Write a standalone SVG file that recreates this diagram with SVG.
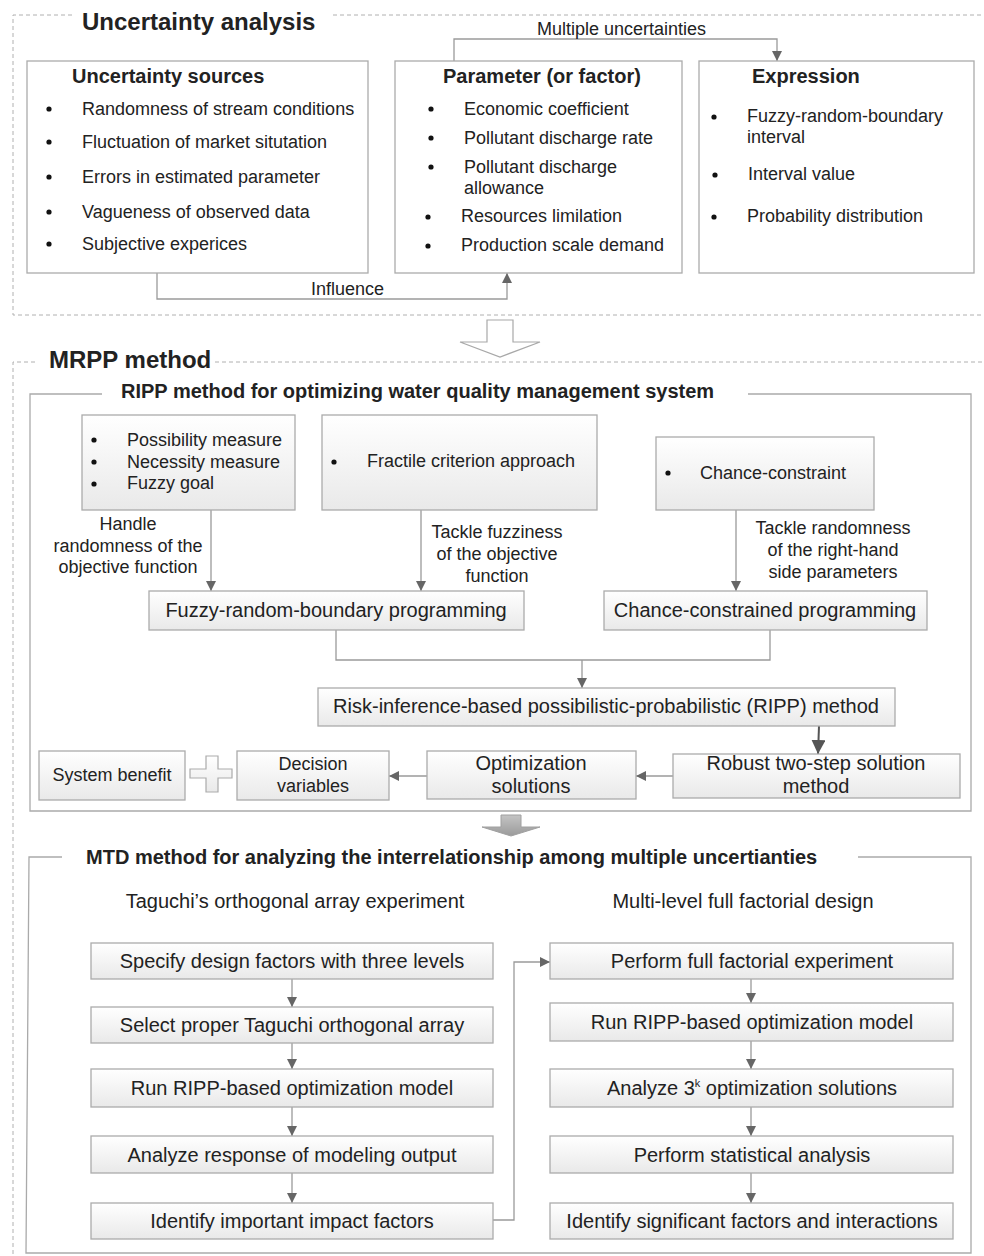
<svg xmlns="http://www.w3.org/2000/svg" width="984" height="1256" viewBox="0 0 984 1256">
<defs>
<linearGradient id="boxg" x1="0" y1="0" x2="0" y2="1">
<stop offset="0" stop-color="#ffffff"/>
<stop offset="1" stop-color="#e9e9e9"/>
</linearGradient>
<linearGradient id="arrg" x1="0" y1="0" x2="0" y2="1">
<stop offset="0" stop-color="#c4c4c4"/>
<stop offset="1" stop-color="#9a9a9a"/>
</linearGradient>
<marker id="ah" markerWidth="10" markerHeight="10" viewBox="0 0 10 10" refX="10" refY="5" orient="auto" markerUnits="userSpaceOnUse">
<path d="M0,0 L10,5 L0,10 Z" fill="#666"/>
</marker>
<marker id="ahb" markerWidth="14" markerHeight="14" viewBox="0 0 10 10" refX="10" refY="5" orient="auto" markerUnits="userSpaceOnUse">
<path d="M0,0 L10,5 L0,10 Z" fill="#555"/>
</marker>
</defs>
<style>
text{font-family:"Liberation Sans",Arial,sans-serif;fill:#222;}
.h1{font-size:24px;font-weight:bold;}
.h2{font-size:20px;font-weight:bold;}
.t{font-size:18px;}
.b{font-size:20px;}
.bx{fill:url(#boxg);stroke:#ababab;stroke-width:1.3;}
.wb{fill:#fff;stroke:#ababab;stroke-width:1.3;}
.dash{fill:none;stroke:#b0b0b0;stroke-width:1;stroke-dasharray:4 3;}
.fr{fill:none;stroke:#aaa;stroke-width:1.3;}
.c{fill:none;stroke:#9a9a9a;stroke-width:1.3;marker-end:url(#ah);}
.cn{fill:none;stroke:#9a9a9a;stroke-width:1.3;}
.m{text-anchor:middle;}
.dot{fill:#111;}
</style>

<g id="frames">
<path class="dash" d="M72,15 H13 V315 H984"/>
<path class="dash" d="M333,15 H984"/>
<text class="h1" x="82" y="30">Uncertainty analysis</text>
<path class="dash" d="M35,362 H13 V1256"/>
<path class="dash" d="M215,362 H984"/>
<text class="h1" x="49" y="368">MRPP method</text>
<path class="fr" d="M102,394 H30 V811 H971 V394 H748"/>
<text class="h2" x="121" y="398">RIPP method for optimizing water quality management system</text>
<path class="fr" d="M62,857 H29 L26,1253 H971 V857 H858"/>
<text class="h2" x="86" y="864">MTD method for analyzing the interrelationship among multiple uncertianties</text>
</g>

<g id="connectors">
<path class="c" d="M454,61 V39 H777 V61"/>
<text class="t" x="537" y="35">Multiple uncertainties</text>
<path class="c" d="M157,273 V299 H507 V273"/>
<text class="t" x="311" y="295">Influence</text>
<path class="c" d="M211,510 V591"/>
<path class="c" d="M421,510 V591"/>
<path class="c" d="M736,510 V591"/>
<path class="cn" d="M336,630 V660 H770 V630"/>
<path class="c" d="M582,660 V688"/>
<path d="M819,726 L818,754" fill="none" stroke="#555" stroke-width="2" marker-end="url(#ahb)"/>
<path class="c" d="M673,776 H636"/>
<path class="c" d="M427,776 H389"/>
<path class="c" d="M292,979 V1007"/>
<path class="c" d="M292,1043 V1069"/>
<path class="c" d="M292,1107 V1136"/>
<path class="c" d="M292,1173 V1203"/>
<path class="c" d="M751,979 V1003"/>
<path class="c" d="M751,1041 V1069"/>
<path class="c" d="M751,1107 V1136"/>
<path class="c" d="M751,1173 V1203"/>
<path class="c" d="M493,1220 H514 V962 H550"/>
<path d="M487,320 H513 V342 H540 L500,357 L460,342 H487 Z" fill="#fff" stroke="#a8a8a8" stroke-width="1.2"/>
<path d="M501,815 H521 V827 H540 L511,836 L482,827 H501 Z" fill="url(#arrg)" stroke="#a0a0a0" stroke-width="1"/>
</g>

<g id="n-sources">
<rect class="wb" x="27" y="61" width="341" height="212"/>
<text class="h2" x="72" y="83">Uncertainty sources</text>
<circle class="dot" cx="49" cy="109" r="2.6"/><text class="t" x="82" y="115">Randomness of stream conditions</text>
<circle class="dot" cx="49" cy="142" r="2.6"/><text class="t" x="82" y="148">Fluctuation of market situtation</text>
<circle class="dot" cx="49" cy="177" r="2.6"/><text class="t" x="82" y="183">Errors in estimated parameter</text>
<circle class="dot" cx="49" cy="212" r="2.6"/><text class="t" x="82" y="218">Vagueness of observed data</text>
<circle class="dot" cx="49" cy="244" r="2.6"/><text class="t" x="82" y="250">Subjective experices</text>
</g>

<g id="n-parameter">
<rect class="wb" x="395" y="61" width="287" height="212"/>
<text class="h2" x="443" y="83">Parameter (or factor)</text>
<circle class="dot" cx="431" cy="109" r="2.6"/><text class="t" x="464" y="115">Economic coefficient</text>
<circle class="dot" cx="431" cy="138" r="2.6"/><text class="t" x="464" y="144">Pollutant discharge rate</text>
<circle class="dot" cx="431" cy="167" r="2.6"/><text class="t" x="464" y="173">Pollutant discharge</text>
<text class="t" x="464" y="194">allowance</text>
<circle class="dot" cx="428" cy="217" r="2.6"/><text class="t" x="461" y="222">Resources limilation</text>
<circle class="dot" cx="428" cy="246" r="2.6"/><text class="t" x="461" y="251">Production scale demand</text>
</g>

<g id="n-expression">
<rect class="wb" x="699" y="61" width="275" height="212"/>
<text class="h2" x="752" y="83">Expression</text>
<circle class="dot" cx="714" cy="117" r="2.6"/><text class="t" x="747" y="122">Fuzzy-random-boundary</text>
<text class="t" x="747" y="143">interval</text>
<circle class="dot" cx="715" cy="175" r="2.6"/><text class="t" x="748" y="180">Interval value</text>
<circle class="dot" cx="714" cy="217" r="2.6"/><text class="t" x="747" y="222">Probability distribution</text>
</g>

<g id="n-possibility">
<rect class="bx" x="82" y="415" width="213" height="95"/>
<circle class="dot" cx="94" cy="440" r="2.6"/><text class="t" x="127" y="446">Possibility measure</text>
<circle class="dot" cx="94" cy="462" r="2.6"/><text class="t" x="127" y="468">Necessity measure</text>
<circle class="dot" cx="94" cy="484" r="2.6"/><text class="t" x="127" y="489">Fuzzy goal</text>
</g>
<g id="l-handle">
<text class="t m" x="128" y="530">Handle</text>
<text class="t m" x="128" y="552">randomness of the</text>
<text class="t m" x="128" y="573">objective function</text>
</g>

<g id="n-fractile">
<rect class="bx" x="322" y="415" width="275" height="95"/>
<circle class="dot" cx="334" cy="462" r="2.6"/><text class="t" x="367" y="467">Fractile criterion approach</text>
</g>
<g id="l-fuzz">
<text class="t m" x="497" y="538">Tackle fuzziness</text>
<text class="t m" x="497" y="560">of the objective</text>
<text class="t m" x="497" y="582">function</text>
</g>

<g id="n-chance">
<rect class="bx" x="656" y="437" width="218" height="73"/>
<circle class="dot" cx="668" cy="473" r="2.6"/><text class="t" x="700" y="479">Chance-constraint</text>
</g>
<g id="l-rand">
<text class="t m" x="833" y="534">Tackle randomness</text>
<text class="t m" x="833" y="556">of the right-hand</text>
<text class="t m" x="833" y="578">side parameters</text>
</g>

<g id="n-frb">
<rect class="bx" x="149" y="591" width="375" height="39"/>
<text class="b m" x="336" y="617">Fuzzy-random-boundary programming</text>
</g>
<g id="n-ccp">
<rect class="bx" x="604" y="591" width="323" height="39"/>
<text class="b m" x="765" y="617">Chance-constrained programming</text>
</g>
<g id="n-ripp">
<rect class="bx" x="318" y="688" width="577" height="38"/>
<text class="b m" x="606" y="713">Risk-inference-based possibilistic-probabilistic (RIPP) method</text>
</g>
<g id="n-robust">
<rect class="bx" x="673" y="754" width="287" height="44"/>
<text class="b m" x="816" y="770">Robust two-step solution</text>
<text class="b m" x="816" y="793">method</text>
</g>
<g id="n-opt">
<rect class="bx" x="427" y="751" width="209" height="48"/>
<text class="b m" x="531" y="770">Optimization</text>
<text class="b m" x="531" y="793">solutions</text>
</g>
<g id="n-decision">
<rect class="bx" x="237" y="751" width="152" height="49"/>
<text class="t m" x="313" y="770">Decision</text>
<text class="t m" x="313" y="792">variables</text>
</g>
<g id="n-plus">
<path d="M206,756 H218 V769 H232 V778 H218 V792 H206 V778 H190 V769 H206 Z" fill="url(#boxg)" stroke="#ababab" stroke-width="1.2"/>
</g>
<g id="n-benefit">
<rect class="bx" x="39" y="751" width="146" height="49"/>
<text class="t m" x="112" y="781">System benefit</text>
</g>

<g id="l-columns">
<text class="b m" x="295" y="908">Taguchi’s orthogonal array experiment</text>
<text class="b m" x="743" y="908">Multi-level full factorial design</text>
</g>

<g id="n-l1"><rect class="bx" x="91" y="943" width="402" height="36"/><text class="b m" x="292" y="968">Specify design factors with three levels</text></g>
<g id="n-l2"><rect class="bx" x="91" y="1007" width="402" height="36"/><text class="b m" x="292" y="1032">Select proper Taguchi orthogonal array</text></g>
<g id="n-l3"><rect class="bx" x="91" y="1069" width="402" height="38"/><text class="b m" x="292" y="1095">Run RIPP-based optimization model</text></g>
<g id="n-l4"><rect class="bx" x="91" y="1136" width="402" height="37"/><text class="b m" x="292" y="1162">Analyze response of modeling output</text></g>
<g id="n-l5"><rect class="bx" x="91" y="1203" width="402" height="36"/><text class="b m" x="292" y="1228">Identify important impact factors</text></g>

<g id="n-r1"><rect class="bx" x="550" y="943" width="403" height="36"/><text class="b m" x="752" y="968">Perform full factorial experiment</text></g>
<g id="n-r2"><rect class="bx" x="550" y="1003" width="403" height="38"/><text class="b m" x="752" y="1029">Run RIPP-based optimization model</text></g>
<g id="n-r3"><rect class="bx" x="550" y="1069" width="403" height="38"/><text class="b m" x="752" y="1095">Analyze 3<tspan dy="-8" font-size="11">k</tspan><tspan dy="8"> optimization solutions</tspan></text></g>
<g id="n-r4"><rect class="bx" x="550" y="1136" width="403" height="37"/><text class="b m" x="752" y="1162">Perform statistical analysis</text></g>
<g id="n-r5"><rect class="bx" x="550" y="1203" width="403" height="36"/><text class="b m" x="752" y="1228">Identify significant factors and interactions</text></g>
</svg>
